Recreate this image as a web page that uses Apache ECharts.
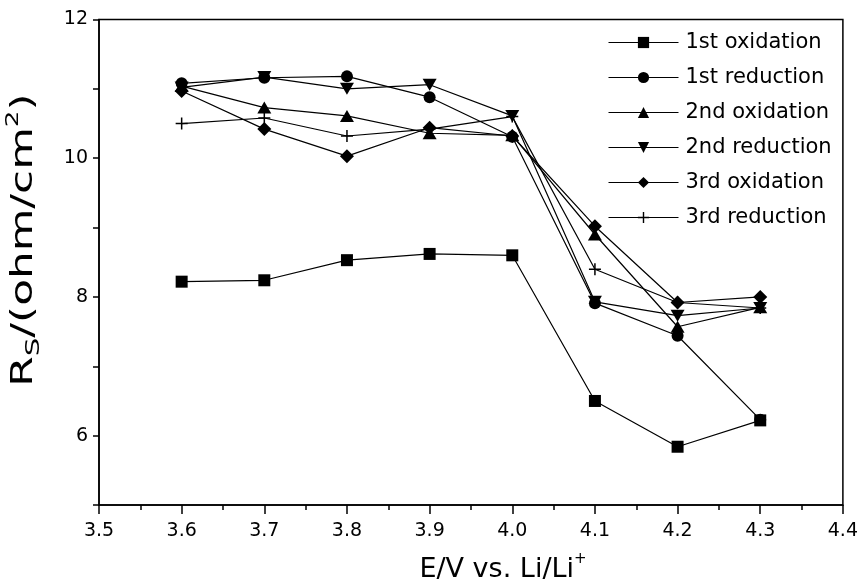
<!DOCTYPE html>
<html>
<head>
<meta charset="utf-8">
<script src="https://cdn.jsdelivr.net/npm/echarts@6/dist/echarts.min.js"></script>
<style>
  html, body { margin: 0; padding: 0; background: #fff; }
  #chart { width: 861px; height: 586px; }
</style>
</head>
<body>
<div id="chart"></div>
<script>
// potentials (V vs Li/Li+)
var potentials = [3.6, 3.7, 3.8, 3.9, 4.0, 4.1, 4.2, 4.3];

// Rs values
var oxidation1 = [8.22, 8.24, 8.53, 8.62, 8.60, 6.50, 5.84, 6.22];
var reduction1 = [11.08, 11.16, 11.18, 10.88, 10.31, 7.91, 7.44, 6.23];
var oxidation2 = [11.04, 10.73, 10.61, 10.36, 10.33, 8.90, 7.57, 7.85];
var reduction2 = [11.02, 11.17, 11.00, 11.06, 10.61, 7.93, 7.73, 7.84];
var oxidation3 = [10.97, 10.42, 10.03, 10.44, 10.32, 9.02, 7.92, 8.00];
var reduction3 = [10.50, 10.58, 10.32, 10.42, 10.60, 8.40, 7.92, 7.84];

var seriesNames = ['1st oxidation', '1st reduction', '2nd oxidation', '2nd reduction', '3rd oxidation', '3rd reduction'];

var downTriangle = 'path://M0,0 L14,0 L7,12 Z';
var plusSign = 'path://M5.25,0 H6.75 V5.25 H12 V6.75 H6.75 V12 H5.25 V6.75 H0 V5.25 H5.25 Z';

function pairs(values) {
    return potentials.map(function (p, i) { return [p, values[i]]; });
}

function makeSeries(name, values, symbol, size) {
    return {
        name: name,
        type: 'line',
        data: pairs(values),
        symbol: symbol,
        symbolSize: size,
        showAllSymbol: true,
        lineStyle: { color: '#000', width: 1.2 },
        itemStyle: { color: '#000' },
        emphasis: { disabled: true }
    };
}

var chart = echarts.init(document.getElementById('chart'));

var option = {
    animation: false,
    backgroundColor: '#fff',
    grid: {
        left: 99, right: 17, top: 19.5, bottom: 81,
        show: true, borderColor: '#000', borderWidth: 1.5
    },
    legend: {
        orient: 'vertical',
        left: 603, top: 27,
        itemWidth: 70, itemHeight: 14,
        itemGap: 14,
        data: seriesNames,
        lineStyle: { width: 1 },
        textStyle: { fontFamily: 'DejaVu Sans', fontSize: 21, color: '#000', lineHeight: 21, padding: [0, 0, 0, 2] }
    },
    xAxis: {
        type: 'value',
        min: 3.5, max: 4.4, interval: 0.1,
        axisLine: { lineStyle: { color: '#000', width: 1.5 } },
        axisTick: { length: 9, lineStyle: { color: '#000', width: 1.5 } },
        minorTick: { show: true, splitNumber: 2, length: 5, lineStyle: { color: '#000', width: 1.5 } },
        splitLine: { show: false },
        axisLabel: {
            margin: 17, color: '#000', fontFamily: 'DejaVu Sans', fontSize: 19,
            formatter: function (v) { return v.toFixed(1); }
        }
    },
    yAxis: {
        type: 'value',
        min: 5, max: 12, interval: 1,
        axisLine: { lineStyle: { color: '#000', width: 1.5 } },
        axisTick: { length: 6, lineStyle: { color: '#000', width: 1.5 } },
        splitLine: { show: false },
        axisLabel: {
            margin: 11, color: '#000', fontFamily: 'DejaVu Sans', fontSize: 19,
            formatter: function (v) { return (v % 2 === 0) ? String(v) : ''; }
        }
    },
    graphic: [
        {
            type: 'text', x: 503, y: 570, silent: true,
            style: {
                text: '{a|E/V vs. Li/Li}{p|+}',
                align: 'center', verticalAlign: 'middle',
                rich: {
                    a: { fontFamily: 'DejaVu Sans', fontSize: 27, lineHeight: 36, fill: '#000' },
                    p: { fontFamily: 'DejaVu Sans', fontSize: 15, lineHeight: 15, verticalAlign: 'top', fill: '#000' }
                }
            }
        },
        {
            type: 'text', x: 24, y: 240, rotation: Math.PI / 2, scaleX: 1.46, silent: true,
            style: {
                text: '{a|R}{s|S}{a|/(ohm/cm}{p|2}{a|)}',
                align: 'center', verticalAlign: 'middle',
                rich: {
                    a: { fontFamily: 'DejaVu Sans', fontSize: 30, lineHeight: 40, fill: '#000' },
                    s: { fontFamily: 'DejaVu Sans', fontSize: 20, lineHeight: 20, verticalAlign: 'bottom', fill: '#000' },
                    p: { fontFamily: 'DejaVu Sans', fontSize: 18, lineHeight: 18, verticalAlign: 'top', fill: '#000' }
                }
            }
        }
    ],
    series: [
        makeSeries(seriesNames[0], oxidation1, 'rect', 12),
        makeSeries(seriesNames[1], reduction1, 'circle', 12),
        makeSeries(seriesNames[2], oxidation2, 'triangle', [14, 12]),
        makeSeries(seriesNames[3], reduction2, downTriangle, [14, 12]),
        makeSeries(seriesNames[4], oxidation3, 'diamond', [14, 14]),
        makeSeries(seriesNames[5], reduction3, plusSign, 12)
    ]
};

chart.setOption(option);
</script>
</body>
</html>
